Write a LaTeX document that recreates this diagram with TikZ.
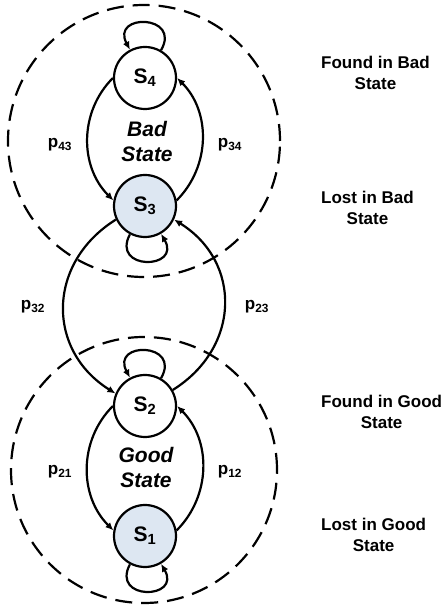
\documentclass[tikz,border=0pt]{standalone}
\usepackage{fontspec}
\setmainfont{Liberation Sans}
\usetikzlibrary{arrows.meta}
\definecolor{lostfill}{RGB}{221,231,242}
\tikzset{
  state/.style={circle,draw,line width=2.2pt,minimum size=62pt,inner sep=0pt,
    font=\fontsize{21}{21}\selectfont\bfseries},
  lost/.style={state,fill=lostfill},
  trans/.style={line width=2.2pt,-{Latex[length=8pt,width=7pt]}},
  prob/.style={font=\fontsize{17}{17}\selectfont\bfseries},
  region/.style={draw,line width=2.2pt,dash pattern=on 17pt off 9pt},
  regionname/.style={align=center,font=\fontsize{21}{25}\selectfont\bfseries\itshape},
  note/.style={align=center,anchor=west,inner sep=0pt,font=\fontsize{17}{21}\selectfont\bfseries}
}

\begin{document}
\begin{tikzpicture}[x=1pt,y=1pt]
\useasboundingbox (0,0) rectangle (443,608);
% the two regions
\draw[region] (144,467) circle (136);
\draw[region] (144,138) circle (133);
% states
\node[state] (S4) at (145,530) {S\textsubscript{4}};
\node[lost]  (S3) at (145,402) {S\textsubscript{3}};
\node[state] (S2) at (145,202) {S\textsubscript{2}};
\node[lost]  (S1) at (145,72)  {S\textsubscript{1}};
\node[regionname] (bad) at (147,467) {Bad\\State};
\node[regionname] (good) at (146,141) {Good\\State};
% transitions
\draw[trans] (S4.west) to[out=225,in=135] (S3.170);
\draw[trans] (S3.10) to[out=45,in=-45] (S4.east);
\draw[trans] (S2.west) to[out=225,in=135] (S1.170);
\draw[trans] (S1.10) to[out=45,in=-45] (S2.east);
\draw[trans] (S3.205) to[out=212,in=148,looseness=1.2] (S2.157);
\draw[trans] (S2.30) to[out=32,in=-32,looseness=1.2] (S3.-25);
% self loops
\draw[trans] (S4) to[out=60,in=118,looseness=3.4] (S4);
\draw[trans] (S3) to[out=242,in=300,looseness=3.4] (S3);
\draw[trans] (S2) to[out=60,in=118,looseness=3.4] (S2);
\draw[trans] (S1) to[out=242,in=300,looseness=3.4] (S1);
% probabilities
\node[prob] (p43) at (60,463) {p\textsubscript{43}};
\node[prob] (p34) at (230,463) {p\textsubscript{34}};
\node[prob] (p32) at (33,301) {p\textsubscript{32}};
\node[prob] (p23) at (257,301) {p\textsubscript{23}};
\node[prob] (p21) at (60,136) {p\textsubscript{21}};
\node[prob] (p12) at (230,136) {p\textsubscript{12}};
% what each state means
\node[note] (n4) at (321,535) {Found in Bad\\State};
\node[note] (n3) at (321,400) {Lost in Bad\\State};
\node[note] (n2) at (321,196) {Found in Good\\State};
\node[note] (n1) at (321,73)  {Lost in Good\\State};
\end{tikzpicture}
\end{document}
